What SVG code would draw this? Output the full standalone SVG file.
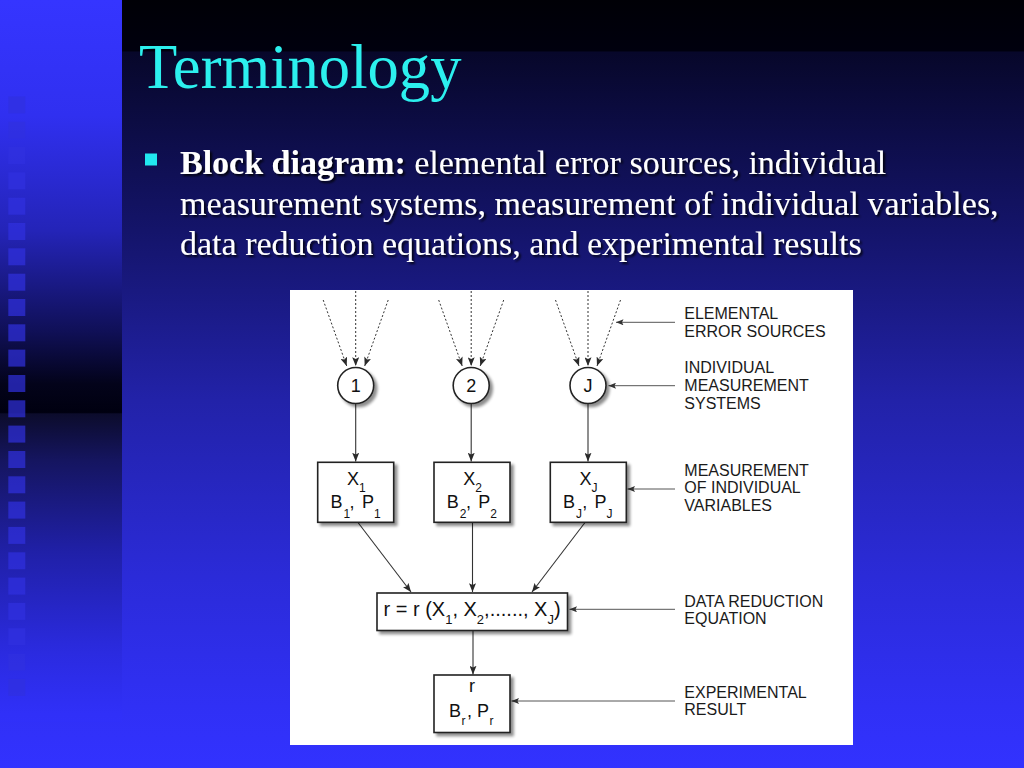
<svg xmlns="http://www.w3.org/2000/svg" xmlns:xlink="http://www.w3.org/1999/xlink" width="1024" height="768" viewBox="0 0 1024 768">
<defs>
<linearGradient id="bgMain" x1="0" y1="0" x2="0" y2="768" gradientUnits="userSpaceOnUse">
<stop offset="0" stop-color="#000006"/>
<stop offset="0.066" stop-color="#00000e"/>
<stop offset="0.068" stop-color="#07072a"/>
<stop offset="0.3" stop-color="#14146a"/>
<stop offset="0.52" stop-color="#2222a8"/>
<stop offset="0.75" stop-color="#2b2bd8"/>
<stop offset="0.92" stop-color="#3030f5"/>
<stop offset="1" stop-color="#3232ff"/>
</linearGradient>
<linearGradient id="bgLeft" x1="0" y1="0" x2="0" y2="768" gradientUnits="userSpaceOnUse">
<stop offset="0" stop-color="#3535ff"/>
<stop offset="0.15" stop-color="#3030f0"/>
<stop offset="0.3" stop-color="#2424b8"/>
<stop offset="0.43" stop-color="#101058"/>
<stop offset="0.5" stop-color="#03031a"/>
<stop offset="0.537" stop-color="#000010"/>
<stop offset="0.539" stop-color="#0c0c2c"/>
<stop offset="0.6" stop-color="#151560"/>
<stop offset="0.72" stop-color="#2020a8"/>
<stop offset="0.85" stop-color="#2b2be0"/>
<stop offset="0.93" stop-color="#3030f8"/>
<stop offset="1" stop-color="#3232ff"/>
</linearGradient>
<filter id="sh" x="-20%" y="-20%" width="150%" height="160%">
<feGaussianBlur in="SourceAlpha" stdDeviation="1.6"/>
<feOffset dx="3" dy="3" result="o"/>
<feComponentTransfer><feFuncA type="linear" slope="0.45"/></feComponentTransfer>
<feMerge><feMergeNode/><feMergeNode in="SourceGraphic"/></feMerge>
</filter>
<filter id="tsh" x="-5%" y="-30%" width="110%" height="160%">
<feDropShadow dx="2" dy="2" stdDeviation="1" flood-color="#000000" flood-opacity="0.85"/>
</filter>
<marker id="ah" viewBox="0 0 10 8" refX="10" refY="4" markerWidth="9" markerHeight="7" markerUnits="userSpaceOnUse" orient="auto">
<path d="M0,0 L10,4 L0,8 L2,4 z" fill="#2a2a2a"/>
</marker>
<marker id="ahl" viewBox="0 0 10 8" refX="10" refY="4" markerWidth="9" markerHeight="6" markerUnits="userSpaceOnUse" orient="auto">
<path d="M0,0 L10,4 L0,8 L2,4 z" fill="#333333"/>
</marker>
<rect id="sq" width="17" height="17"/>
<style>
.title{font-family:"Liberation Serif","Times New Roman",serif;font-size:62.6px;fill:#2cf0ee}
.body{font-family:"Liberation Serif","Times New Roman",serif;font-size:34px;fill:#ffffff}
.lbl{font-family:"Liberation Sans",Arial,sans-serif;font-size:16px;fill:#1a1a1a}
.nt{font-family:"Liberation Sans",Arial,sans-serif;font-size:18px;fill:#111111}
.eq{font-family:"Liberation Sans",Arial,sans-serif;font-size:20px;fill:#111111}
.sub{font-size:12px}
.eq .sub{font-size:13px}
.box{fill:#ffffff;stroke:#222222;stroke-width:1.6}
.con{fill:none;stroke:#333333;stroke-width:1.1}
.dot{fill:none;stroke:#333333;stroke-width:1;stroke-dasharray:2 2}
.lin{fill:none;stroke:#555555;stroke-width:1}
.sqs use{fill:#3030e0;fill-opacity:0.7}
</style>
</defs>

<!-- background -->
<rect x="0" y="0" width="1024" height="768" fill="url(#bgMain)"/>
<rect x="0" y="0" width="122" height="722" fill="url(#bgLeft)"/>
<g class="sqs">
<use xlink:href="#sq" x="8.3" y="96.4"/>
<use xlink:href="#sq" x="8.3" y="121.7"/>
<use xlink:href="#sq" x="8.3" y="147"/>
<use xlink:href="#sq" x="8.3" y="172.4"/>
<use xlink:href="#sq" x="8.3" y="197.7"/>
<use xlink:href="#sq" x="8.3" y="223"/>
<use xlink:href="#sq" x="8.3" y="248.3"/>
<use xlink:href="#sq" x="8.3" y="273.7"/>
<use xlink:href="#sq" x="8.3" y="299"/>
<use xlink:href="#sq" x="8.3" y="324.3"/>
<use xlink:href="#sq" x="8.3" y="349.6"/>
<use xlink:href="#sq" x="8.3" y="375"/>
<use xlink:href="#sq" x="8.3" y="400.3"/>
<use xlink:href="#sq" x="8.3" y="425.6"/>
<use xlink:href="#sq" x="8.3" y="451"/>
<use xlink:href="#sq" x="8.3" y="476.3"/>
<use xlink:href="#sq" x="8.3" y="501.6"/>
<use xlink:href="#sq" x="8.3" y="526.9"/>
<use xlink:href="#sq" x="8.3" y="552.3"/>
<use xlink:href="#sq" x="8.3" y="577.6"/>
<use xlink:href="#sq" x="8.3" y="602.9"/>
<use xlink:href="#sq" x="8.3" y="628.2"/>
<use xlink:href="#sq" x="8.3" y="653.6"/>
<use xlink:href="#sq" x="8.3" y="678.9"/>
</g>

<!-- title and bullet text -->
<text class="title" x="139" y="88">Terminology</text>
<rect x="145" y="153.5" width="12" height="12" fill="#22e8f0"/>
<g filter="url(#tsh)">
<text class="body" x="180" y="174"><tspan font-weight="bold">Block diagram:</tspan> elemental error sources, individual</text>
<text class="body" x="180" y="214.5">measurement systems, measurement of individual variables,</text>
<text class="body" x="180" y="255">data reduction equations, and experimental results</text>
</g>

<!-- white panel -->
<rect x="290" y="290" width="563" height="455" fill="#ffffff"/>

<!-- connectors -->
<g id="connectors">
<line class="dot" x1="323.2" y1="300" x2="346.7" y2="366" marker-end="url(#ah)"/>
<line class="dot" x1="355.7" y1="291" x2="355.7" y2="366" marker-end="url(#ah)"/>
<line class="dot" x1="388.2" y1="300" x2="364.7" y2="366" marker-end="url(#ah)"/>
<line class="dot" x1="438.7" y1="300" x2="462.2" y2="366" marker-end="url(#ah)"/>
<line class="dot" x1="471.2" y1="291" x2="471.2" y2="366" marker-end="url(#ah)"/>
<line class="dot" x1="503.7" y1="300" x2="480.2" y2="366" marker-end="url(#ah)"/>
<line class="dot" x1="555.5" y1="300" x2="579" y2="366" marker-end="url(#ah)"/>
<line class="dot" x1="588" y1="291" x2="588" y2="366" marker-end="url(#ah)"/>
<line class="dot" x1="620.5" y1="300" x2="597" y2="366" marker-end="url(#ah)"/>

<line class="con" x1="355.7" y1="404" x2="355.7" y2="461.5" marker-end="url(#ah)"/>
<line class="con" x1="471.2" y1="404" x2="471.2" y2="461.5" marker-end="url(#ah)"/>
<line class="con" x1="588" y1="404" x2="588" y2="461.5" marker-end="url(#ah)"/>

<line class="con" x1="358" y1="522.5" x2="411" y2="592" marker-end="url(#ah)"/>
<line class="con" x1="472.5" y1="522.5" x2="472.5" y2="592" marker-end="url(#ah)"/>
<line class="con" x1="585" y1="522.5" x2="532" y2="592" marker-end="url(#ah)"/>
<line class="con" x1="473" y1="631" x2="473" y2="674.5" marker-end="url(#ah)"/>

<line class="lin" x1="675" y1="322.3" x2="616" y2="322.3" marker-end="url(#ahl)"/>
<line class="lin" x1="675" y1="385.7" x2="608.5" y2="385.7" marker-end="url(#ahl)"/>
<line class="lin" x1="675" y1="489" x2="627.5" y2="489" marker-end="url(#ahl)"/>
<line class="lin" x1="675" y1="609.3" x2="569.5" y2="609.3" marker-end="url(#ahl)"/>
<line class="lin" x1="675" y1="701" x2="511.5" y2="701" marker-end="url(#ahl)"/>
</g>

<!-- measurement systems (circles) -->
<g id="sys-1">
<circle class="box" cx="355.7" cy="385.5" r="18" filter="url(#sh)"/>
<text class="nt" x="355.7" y="392" text-anchor="middle">1</text>
</g>
<g id="sys-2">
<circle class="box" cx="471.2" cy="385.5" r="18" filter="url(#sh)"/>
<text class="nt" x="471.2" y="392" text-anchor="middle">2</text>
</g>
<g id="sys-J">
<circle class="box" cx="588" cy="385.5" r="18" filter="url(#sh)"/>
<text class="nt" x="588" y="392" text-anchor="middle">J</text>
</g>

<!-- individual variables -->
<g id="var-1">
<rect class="box" x="317.7" y="462.3" width="76" height="60" filter="url(#sh)"/>
<text class="nt" y="484.5"><tspan x="347">X</tspan><tspan class="sub" x="359" dy="7">1</tspan></text>
<text class="nt" y="508"><tspan x="330.5">B</tspan><tspan class="sub" x="343.5" dy="10">1</tspan><tspan x="349.6" dy="-10">, </tspan><tspan x="362">P</tspan><tspan class="sub" x="374" dy="10">1</tspan></text>
</g>
<g id="var-2">
<rect class="box" x="434" y="462.3" width="76" height="60" filter="url(#sh)"/>
<text class="nt" y="484.5"><tspan x="463.3">X</tspan><tspan class="sub" x="475.3" dy="7">2</tspan></text>
<text class="nt" y="508"><tspan x="446.8">B</tspan><tspan class="sub" x="459.8" dy="10">2</tspan><tspan x="465.9" dy="-10">, </tspan><tspan x="478.3">P</tspan><tspan class="sub" x="490.3" dy="10">2</tspan></text>
</g>
<g id="var-J">
<rect class="box" x="550.3" y="462.3" width="76" height="60" filter="url(#sh)"/>
<text class="nt" y="484.5"><tspan x="579.6">X</tspan><tspan class="sub" x="591.6" dy="7">J</tspan></text>
<text class="nt" y="508"><tspan x="563.1">B</tspan><tspan class="sub" x="576.1" dy="10">J</tspan><tspan x="582.2" dy="-10">, </tspan><tspan x="594.6">P</tspan><tspan class="sub" x="606.6" dy="10">J</tspan></text>
</g>

<!-- data reduction equation -->
<g id="equation">
<rect class="box" x="377" y="593" width="190.5" height="37.5" filter="url(#sh)"/>
<text class="eq" x="383.5" y="616">r = r (X<tspan class="sub" dy="8">1</tspan><tspan dy="-8">, X</tspan><tspan class="sub" dy="8">2</tspan><tspan dy="-8">,......, X</tspan><tspan class="sub" dy="8">J</tspan><tspan dy="-8">)</tspan></text>
</g>

<!-- experimental result -->
<g id="result">
<rect class="box" x="434" y="675" width="76" height="57.5" filter="url(#sh)"/>
<text class="nt" x="472" y="692" text-anchor="middle">r</text>
<text class="nt" y="716.7"><tspan x="449">B</tspan><tspan class="sub" x="461.5" dy="8.5">r</tspan><tspan x="467" dy="-8.5">, </tspan><tspan x="477">P</tspan><tspan class="sub" x="489.5" dy="8.5">r</tspan></text>
</g>

<!-- side labels -->
<g id="lbl-elemental">
<text class="lbl" x="684.3" y="319.3">ELEMENTAL</text>
<text class="lbl" x="684.3" y="336.7">ERROR SOURCES</text>
</g>
<g id="lbl-systems">
<text class="lbl" x="684.3" y="373.3">INDIVIDUAL</text>
<text class="lbl" x="684.3" y="391">MEASUREMENT</text>
<text class="lbl" x="684.3" y="409">SYSTEMS</text>
</g>
<g id="lbl-variables">
<text class="lbl" x="684.3" y="475.7">MEASUREMENT</text>
<text class="lbl" x="684.3" y="493.3">OF INDIVIDUAL</text>
<text class="lbl" x="684.3" y="511">VARIABLES</text>
</g>
<g id="lbl-equation">
<text class="lbl" x="684.3" y="606.7">DATA REDUCTION</text>
<text class="lbl" x="684.3" y="624">EQUATION</text>
</g>
<g id="lbl-result">
<text class="lbl" x="684.3" y="698.3">EXPERIMENTAL</text>
<text class="lbl" x="684.3" y="715">RESULT</text>
</g>
</svg>
